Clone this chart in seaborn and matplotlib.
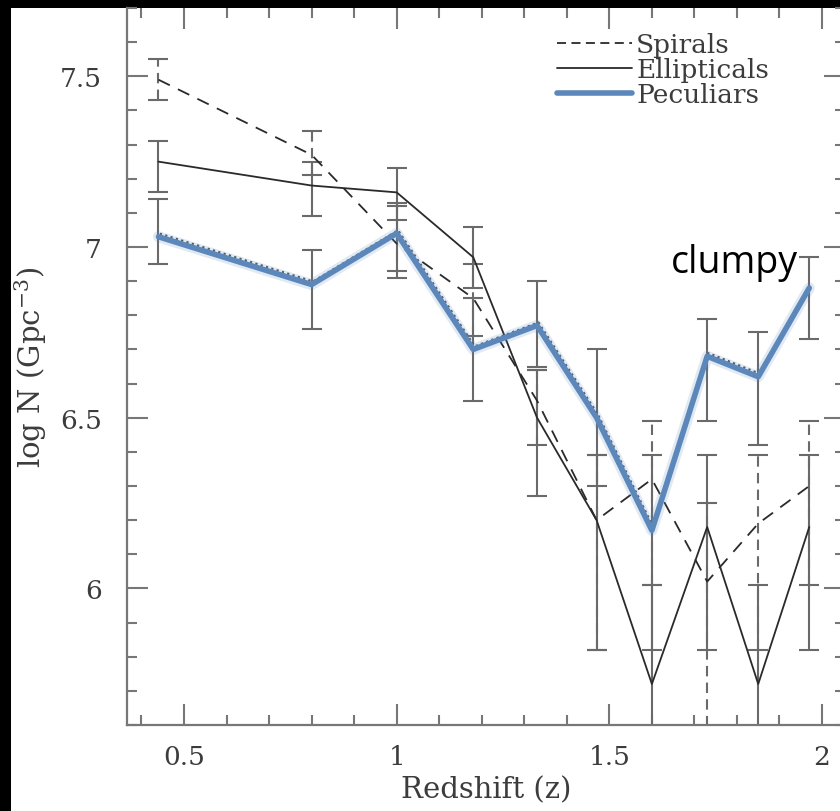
import matplotlib
matplotlib.use("Agg")
import matplotlib.pyplot as plt
import matplotlib.transforms as mtransforms
from matplotlib.lines import Line2D
from matplotlib.patches import Rectangle
from matplotlib.ticker import MultipleLocator
import numpy as np
import pandas as pd
import seaborn as sns

# ---------------- data ----------------
redshift = [0.44, 0.80, 1.00, 1.18, 1.33, 1.47, 1.60, 1.73, 1.85, 1.97]

spirals_val = [7.49, 7.27, 7.01, 6.85, 6.55, 6.20, 6.32, 6.02, 6.19, 6.30]
spirals_top = [7.55, 7.34, 7.12, 6.95, 6.64, 6.39, 6.49, 6.25, 6.39, 6.49]
spirals_bot = [7.43, 7.21, 6.91, 6.74, 6.42, 5.82, 6.01, 5.40, 5.82, 6.01]

ellip_val = [7.25, 7.18, 7.16, 6.97, 6.50, 6.20, 5.72, 6.18, 5.72, 6.18]
ellip_top = [7.31, 7.25, 7.23, 7.06, 6.64, 6.39, 6.01, 6.39, 6.01, 6.39]
ellip_bot = [7.16, 7.09, 7.08, 6.88, 6.27, 5.82, 5.40, 5.82, 5.40, 5.82]

pec_val = [7.03, 6.89, 7.04, 6.70, 6.77, 6.50, 6.17, 6.68, 6.62, 6.88]
pec_top = [7.14, 6.99, 7.13, 6.85, 6.90, 6.70, 6.39, 6.79, 6.75, 6.97]
pec_bot = [6.95, 6.76, 6.93, 6.55, 6.65, 6.30, 5.82, 6.49, 6.42, 6.73]

legend_labels = ["Spirals", "Ellipticals", "Peculiars"]
annotation_text = "clumpy"
xlabel = "Redshift (z)"
ylabel = "log N (Gpc$^{-3}$)"
xticks = [0.5, 1, 1.5, 2]
xticklabels = ["0.5", "1", "1.5", "2"]
yticks = [6, 6.5, 7, 7.5]
yticklabels = ["6", "6.5", "7", "7.5"]

# ---------------- style ----------------
sns.set_style("ticks")
plt.rcParams["font.family"] = ["DejaVu Serif"]
plt.rcParams["mathtext.fontset"] = "dejavuserif"

W, H = 840, 812
fig = plt.figure(figsize=(W / 100, H / 100), dpi=100)
fig.patch.set_facecolor("black")
fig.add_artist(Rectangle((11 / W, -0.05), 1.1, 1.05 - 9 / H, transform=fig.transFigure,
                         facecolor="white", edgecolor="none", zorder=-5))

ax = fig.add_axes([127 / W, 1 - 726 / H, (845 - 127) / W, (726 - 9) / H])
ax.set_facecolor("white")

df = pd.DataFrame({"z": redshift, "spi": spirals_val, "ell": ellip_val, "pec": pec_val})

ERR_C = "#6a6a6a"
LINE_C = "#2a2a2a"
BLUE = "#5b87bb"
TXT_C = "#3c3c3c"


def draw_err(vals, tops, bots, ls):
    v = np.array(vals)
    lo = v - np.array(bots)
    hi = np.array(tops) - v
    eb = ax.errorbar(redshift, v, yerr=[lo, hi], fmt="none", ecolor=ERR_C,
                     elinewidth=1.5, capsize=7, capthick=1.5, zorder=2)
    if ls != "-":
        for c in eb[2]:
            c.set_linestyle(ls)


draw_err(spirals_val, spirals_top, spirals_bot, (0, (5, 3)))
draw_err(ellip_val, ellip_top, ellip_bot, "-")
draw_err(pec_val, pec_top, pec_bot, "-")

sns.lineplot(data=df, x="z", y="spi", ax=ax, color=LINE_C, lw=1.3,
             linestyle=(0, (7, 5)), zorder=3)
sns.lineplot(data=df, x="z", y="ell", ax=ax, color=LINE_C, lw=1.3, zorder=3)

# dotted companion line of peculiars, slightly offset
off = mtransforms.offset_copy(ax.transData, fig=fig, x=1.0, y=2.2, units="points")
ax.plot(redshift, pec_val, color="#555555", lw=1.6, linestyle=(0, (1, 1.5)),
        transform=off, zorder=3)
# soft glow + blue line
sns.lineplot(data=df, x="z", y="pec", ax=ax, color=BLUE, lw=8, alpha=0.18, zorder=4)
sns.lineplot(data=df, x="z", y="pec", ax=ax, color=BLUE, lw=4, zorder=5)

ax.set_xlim(0.366, 2.054)
ax.set_ylim(5.6, 7.7)

ax.set_xticks(xticks)
ax.set_xticklabels(xticklabels)
ax.set_yticks(yticks)
ax.set_yticklabels(yticklabels)
ax.xaxis.set_minor_locator(MultipleLocator(0.1))
ax.yaxis.set_minor_locator(MultipleLocator(0.1))
ax.tick_params(which="both", direction="in", top=True, right=True, colors="#777777",
               labelcolor=TXT_C, width=1.5, labelsize=19)
ax.tick_params(which="major", length=15)
ax.tick_params(which="minor", length=7)
ax.tick_params(axis="x", which="major", pad=14)
ax.tick_params(axis="y", which="major", pad=18)

for s in ["left", "bottom", "right"]:
    ax.spines[s].set_color("#777777")
    ax.spines[s].set_linewidth(1.6)
ax.spines["top"].set_visible(False)

ax.set_xlabel(xlabel, fontsize=21, color=TXT_C, labelpad=4)
ax.set_ylabel(ylabel, fontsize=21, color=TXT_C, labelpad=8)

handles = [
    Line2D([], [], color=LINE_C, lw=1.3, linestyle=(0, (5, 3))),
    Line2D([], [], color=LINE_C, lw=1.3),
    Line2D([], [], color=BLUE, lw=4),
]
leg = ax.legend(handles, legend_labels, loc="upper left",
                bbox_to_anchor=(557 / W, 1 - 33 / H), bbox_transform=fig.transFigure,
                frameon=False, fontsize=19, handlelength=2.85, handletextpad=0.15,
                labelspacing=0.0, borderpad=0, borderaxespad=0)
for t in leg.get_texts():
    t.set_color(TXT_C)

ax.text(1.793, 6.955, annotation_text, fontsize=27, family=["Open Sans", "DejaVu Sans"],
        color="black", ha="center", va="center", zorder=6)

fig.savefig("out.png", dpi=100, facecolor=fig.get_facecolor())
